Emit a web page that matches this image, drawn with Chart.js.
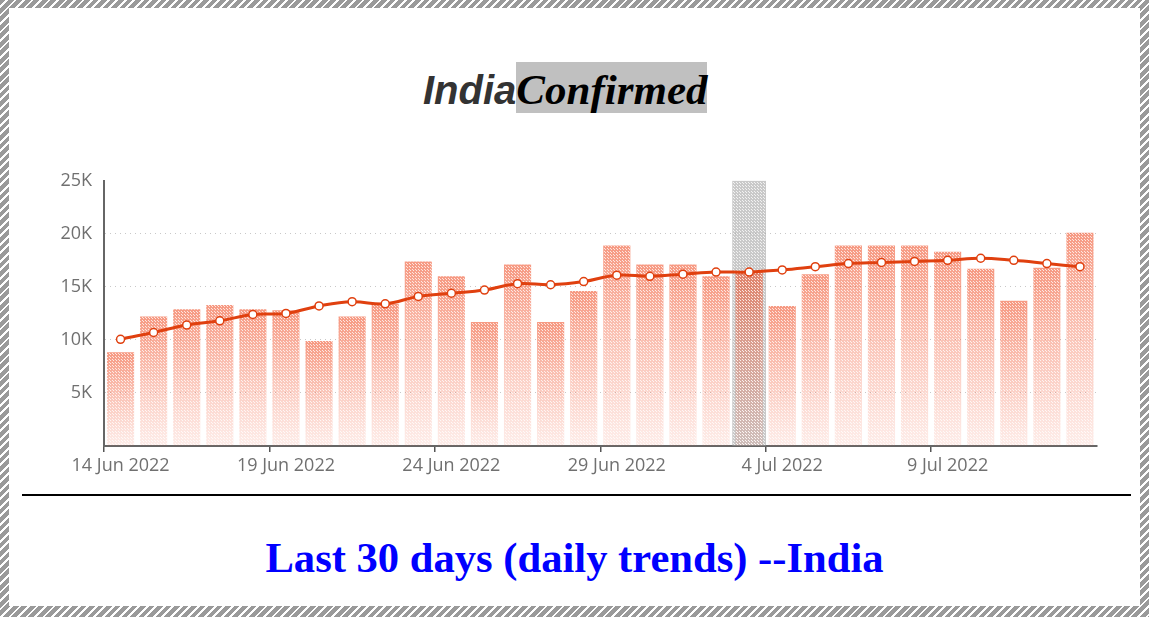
<!DOCTYPE html>
<html>
<head>
<meta charset="utf-8">
<script src="https://cdn.jsdelivr.net/npm/chart.js@4/dist/chart.umd.min.js"></script>
<style>
    html, body { margin: 0; padding: 0; width: 1149px; height: 617px; overflow: hidden; }
    body { background: repeating-linear-gradient(135deg, #9a9a9a 0 4px, #fff 4px 6px); position: relative; }
    #page { position: absolute; left: 9px; top: 8px; width: 1131px; height: 598px; background: #fff; }
    #title { position: absolute; left: 423px; top: 65px; white-space: nowrap; line-height: normal; }
    #title .a { font: italic bold 40px "Liberation Sans", Arial, sans-serif; color: #333; }
    #title .b { font: italic bold 43px "Liberation Serif", "Times New Roman", serif; color: #000; background: #c0c0c0; padding-top: 4px; }
    #chartBox { position: absolute; left: 40px; top: 158px; width: 1062px; height: 328px; }
    #rule { position: absolute; left: 22px; top: 494px; width: 1109px; height: 2px; background: #000; }
    #footer { position: absolute; left: 0; top: 533px; width: 1149px; text-align: center; line-height: normal;
        font: bold 42.6px "Liberation Serif", "Times New Roman", serif; color: #0000ff; }
</style>
</head>
<body>
<div id="page"></div>
<div id="title"><span class="a">India</span><span class="b">Confirmed</span></div>
<div id="chartBox"><canvas id="myChart"></canvas></div>
<div id="rule"></div>
<div id="footer">Last 30 days (daily trends) --India</div>
<script>
const dates = ['14 Jun 2022', '15 Jun 2022', '16 Jun 2022', '17 Jun 2022', '18 Jun 2022', '19 Jun 2022',
    '20 Jun 2022', '21 Jun 2022', '22 Jun 2022', '23 Jun 2022', '24 Jun 2022', '25 Jun 2022',
    '26 Jun 2022', '27 Jun 2022', '28 Jun 2022', '29 Jun 2022', '30 Jun 2022', '1 Jul 2022',
    '2 Jul 2022', '3 Jul 2022', '4 Jul 2022', '5 Jul 2022', '6 Jul 2022', '7 Jul 2022',
    '8 Jul 2022', '9 Jul 2022', '10 Jul 2022', '11 Jul 2022', '12 Jul 2022', '13 Jul 2022'];

const dailyCases = [8830, 12200, 12900, 13300, 12900, 12800, 9900, 12200, 13400, 17400,
    16000, 11700, 17100, 11700, 14600, 18900, 17100, 17100, 16000, 16400,
    13200, 16200, 18900, 18900, 18900, 18300, 16700, 13700, 16800, 20100];

const avgCases = [10060, 10700, 11400, 11800, 12400, 12500, 13200, 13600, 13400, 14100,
    14400, 14700, 15300, 15200, 15500, 16100, 16000, 16200, 16400, 16400,
    16600, 16900, 17200, 17300, 17400, 17500, 17700, 17500, 17200, 16900];

// hovered category (axis pointer shadow)
const hoverIndex = 19;
const yMax = 25000;
const shadowData = dates.map((d, i) => i === hoverIndex ? yMax : null);

const tickFont = { family: '"Open Sans", sans-serif', size: 18 };

function barGradient(context) {
    const chart = context.chart;
    const area = chart.chartArea;
    if (!area || context.parsed === undefined) return 'rgba(240,80,40,0.4)';
    const y = chart.scales.y;
    const top = y.getPixelForValue(context.parsed.y);
    const bottom = y.getPixelForValue(0);
    const g = chart.ctx.createLinearGradient(0, top, 0, bottom);
    g.addColorStop(0, 'rgba(240,80,40,0.58)');
    g.addColorStop(1, 'rgba(245,110,80,0.12)');
    return g;
}

// white dot texture laid over the bars, like the dithered fill of the original
const dotCanvas = document.createElement('canvas');
dotCanvas.width = 3;
dotCanvas.height = 3;
const dctx = dotCanvas.getContext('2d');
dctx.fillStyle = 'rgba(255,255,255,0.75)';
dctx.fillRect(0, 0, 1, 1);
dctx.fillRect(1, 1, 1, 1);

const dotPlugin = {
    id: 'dots',
    afterDatasetDraw(chart, args) {
        if (chart.data.datasets[args.index].type !== 'bar') return;
        const c = chart.ctx;
        const pattern = c.createPattern(dotCanvas, 'repeat');
        c.save();
        c.fillStyle = pattern;
        args.meta.data.forEach(bar => {
            const p = bar.getProps(['x', 'y', 'base', 'width'], true);
            if (p.y === undefined || isNaN(p.y)) return;
            c.fillRect(p.x - p.width / 2, Math.min(p.y, p.base), p.width, Math.abs(p.base - p.y));
        });
        c.restore();
    }
};

const ctx = document.getElementById('myChart').getContext('2d');
const myChart = new Chart(ctx, {
    data: {
        labels: dates,
        datasets: [{
            type: 'line',
            label: '7 day average',
            data: avgCases,
            borderColor: '#e0400f',
            borderWidth: 3,
            tension: 0.4,
            pointRadius: 4,
            pointBorderWidth: 1.5,
            pointBackgroundColor: '#fff',
            pointBorderColor: '#e0400f',
            order: 0
        }, {
            type: 'bar',
            label: 'Confirmed',
            data: dailyCases,
            backgroundColor: barGradient,
            barPercentage: 0.82,
            categoryPercentage: 1,
            grouped: false,
            order: 1
        }, {
            type: 'bar',
            label: 'hover',
            data: shadowData,
            backgroundColor: 'rgba(165,165,165,0.6)',
            barPercentage: 1,
            categoryPercentage: 1,
            grouped: false,
            order: 2
        }]
    },
    options: {
        responsive: true,
        maintainAspectRatio: false,
        animation: false,
        layout: { padding: { top: 4, right: 1, left: 0, bottom: 0 } },
        plugins: {
            legend: { display: false },
            tooltip: { enabled: false }
        },
        scales: {
            x: {
                offset: true,
                grid: {
                    offset: true,
                    drawOnChartArea: false,
                    drawTicks: true,
                    tickLength: 6,
                    lineWidth: 1.5,
                    color: c => (c.index % 5 === 0) ? '#555' : 'rgba(0,0,0,0)'
                },
                border: { display: true, color: '#666', width: 2 },
                ticks: {
                    autoSkip: false,
                    maxRotation: 0,
                    padding: 3,
                    color: '#707070',
                    font: tickFont,
                    callback: (v, i) => i % 5 === 0 ? dates[i] : ''
                },
                afterFit: s => { s.height = 40; }
            },
            y: {
                min: 0,
                max: yMax,
                grid: {
                    drawTicks: false,
                    color: c => (c.tick.value === 0 || c.tick.value === yMax) ? 'rgba(0,0,0,0)' : '#c8c8c8'
                },
                border: { display: true, color: '#666', width: 2, dash: [1, 4] },
                ticks: {
                    stepSize: 5000,
                    padding: 12,
                    color: '#707070',
                    font: tickFont,
                    callback: v => v === 0 ? '' : (v / 1000) + 'K'
                },
                afterFit: s => { s.width = 64; }
            }
        }
    },
    plugins: [dotPlugin]
});
</script>
</body>
</html>
